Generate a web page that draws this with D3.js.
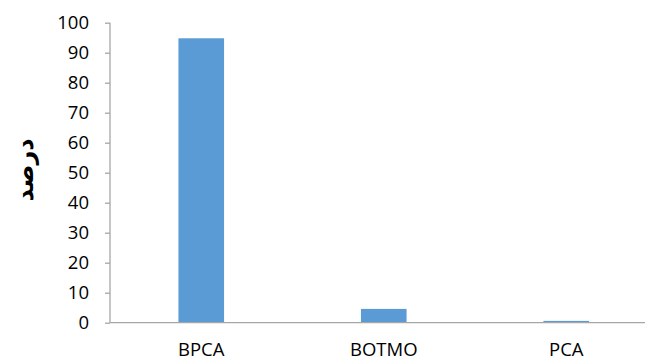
<!DOCTYPE html>
<html>
<head>
<meta charset="utf-8">
<script src="https://cdn.jsdelivr.net/npm/d3@7"></script>
<style>
  body { margin: 0; background: #fff; }
  svg { display: block; font-family: "Open Sans", sans-serif; }
</style>
</head>
<body>
<svg></svg>
<script>
var categories = ["BPCA", "BOTMO", "PCA"];
var values = [94.8, 4.6, 0.6];
var yTicks = [0, 10, 20, 30, 40, 50, 60, 70, 80, 90, 100];
var yLabel = "درصد";

var width = 645, height = 361;
var margin = {top: 22.7, left: 110, bottom: 38.3};

var svg = d3.select("svg")
    .attr("width", width)
    .attr("height", height);

// bands run past the right edge, like the original picture
var x = d3.scaleBand()
    .domain(categories)
    .range([margin.left, margin.left + 547.5])
    .paddingInner(0.75)
    .paddingOuter(0.375);

var y = d3.scaleLinear()
    .domain([0, 100])
    .range([height - margin.bottom, margin.top]);

svg.selectAll(".bar")
    .data(values)
  .enter().append("rect")
    .attr("class", "bar")
    .style("fill", "#5b9bd5")
    .attr("x", function(d, i) { return x(categories[i]); })
    .attr("width", x.bandwidth())
    .attr("y", function(d) { return y(d); })
    .attr("height", function(d) { return y(0) - y(d); });

var yAxis = svg.append("g")
    .attr("transform", "translate(" + margin.left + ",0)")
    .call(d3.axisLeft(y).tickValues(yTicks).tickSize(5).tickPadding(16));

var xAxis = svg.append("g")
    .attr("transform", "translate(0," + y(0) + ")")
    .call(d3.axisBottom(x).tickSize(0).tickPadding(20));

[yAxis, xAxis].forEach(function(a) {
  a.selectAll("path, line").attr("stroke", "#a6a6a6").attr("stroke-width", 1.3);
  a.selectAll("text").attr("fill", "#000").style("font-size", "18.5px")
      .style("font-family", "'Open Sans', sans-serif");
});
xAxis.select(".domain").attr("d", "M" + margin.left + ",0H" + width);
yAxis.select(".domain").attr("d", "M0," + y(100) + "V" + y(0));

svg.append("text")
    .attr("transform", "translate(25,170) rotate(-90)")
    .attr("text-anchor", "middle")
    .attr("dy", "0.35em")
    .style("font-size", "24px")
    .style("font-weight", "bold")
    .style("font-family", "'DejaVu Sans', sans-serif")
    .text(yLabel);
</script>
</body>
</html>
